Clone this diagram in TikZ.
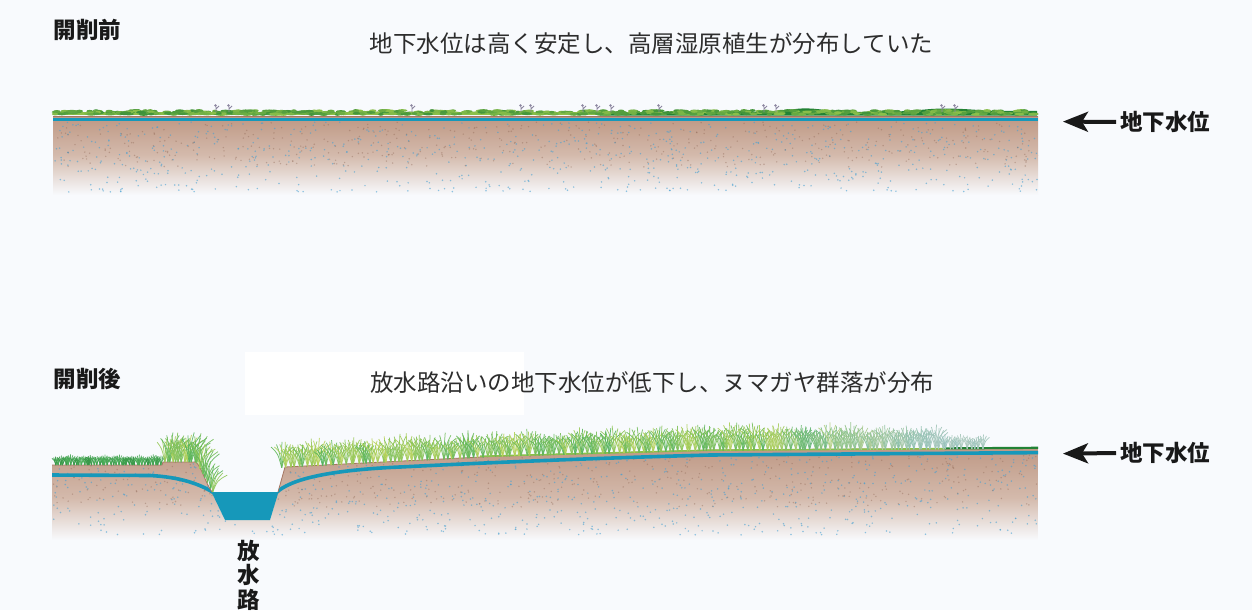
\documentclass[tikz,border=0pt]{standalone}
\usepackage{fontspec}
\newfontfamily\cjk{Noto Sans CJK JP}
\usetikzlibrary{arrows.meta}

\definecolor{bg}{RGB}{248,250,253}
\definecolor{soilTop}{RGB}{190,152,132}
\definecolor{soilMid}{RGB}{212,186,172}
\definecolor{soilEdge}{RGB}{165,118,98}
\definecolor{water}{RGB}{22,152,186}
\definecolor{dotBlue}{RGB}{70,160,210}
\definecolor{dotBrown}{RGB}{140,100,82}
\definecolor{vegDark}{RGB}{34,130,52}
\definecolor{vegLight}{RGB}{140,192,74}
\definecolor{grassA}{RGB}{80,178,92}
\definecolor{grassB}{RGB}{182,210,86}
\definecolor{grassPale}{RGB}{168,198,212}
\definecolor{sprig}{RGB}{140,134,160}
\definecolor{ink}{RGB}{25,25,25}
\definecolor{capink}{RGB}{45,45,45}

\tikzset{
  lab/.style={inner sep=0pt, text=ink, font=\cjk\bfseries\fontsize{22.5}{24.5}\selectfont},
  captext/.style={inner sep=0pt, text=capink, font=\cjk\fontsize{23.5}{26}\selectfont},
  gwarrow/.style={draw=ink, line width=4pt, shorten <=4pt, -{Stealth[length=25pt,width=20pt,inset=6pt]}},
  watertable/.style={draw=water, line width=3.6pt, line cap=round},
  blade/.style={line width=0.75pt, opacity=0.9}
}

% one grass tuft: base x, base y, height, lean, colour
\newcommand\tuft[5]{%
  \foreach \a in {-1,-0.5,0,0.5,1}{%
    \draw[blade,#5] (#1,#2) .. controls ({#1+0.15*\a*#3+0.3*#4},{#2-0.55*#3})
      .. ({#1+0.42*\a*#3+#4},{#2-#3*(1-0.2*abs(\a))});
  }}

\begin{document}
\begin{tikzpicture}[x=1pt,y=-1pt]
\fill[bg] (0,0) rectangle (1252,610);
\useasboundingbox (0,0) rectangle (1252,610);
\pgfmathsetseed{42}

% ---------- before excavation ----------
\begin{scope}
  \clip (53,116) rectangle (1038,196);
  \shade[top color=soilTop, bottom color=soilMid] (53,116) rectangle (1038,155);
  \shade[top color=soilMid, bottom color=bg] (53,155) rectangle (1038,195);
  \foreach \i in {1,...,750}{
    \pgfmathsetmacro\dx{54+983*rnd}
    \pgfmathsetmacro\dy{122+70*rnd}
    \fill[dotBlue,opacity=0.6] (\dx,\dy) circle (0.85);
  }
  \foreach \i in {1,...,450}{
    \pgfmathsetmacro\dx{54+983*rnd}
    \pgfmathsetmacro\dy{122+45*rnd}
    \fill[dotBrown,opacity=0.4] (\dx,\dy) circle (0.8);
  }
\end{scope}

% bog vegetation mat
\draw[vegLight, line width=3pt] (54,113.5) -- (1037,113.5);
\fill[vegDark] (600,115.5) -- (600,113) .. controls (700,112.5) and (760,113) .. (790,110)
  .. controls (800,107.5) and (815,108) .. (830,111) .. controls (870,113) and (900,112)
  .. (925,109.5) .. controls (945,107.5) and (965,109) .. (985,110.5)
  .. controls (1005,111.5) and (1025,110.5) .. (1037,111) -- (1037,115.5) -- cycle;
\foreach \i in {1,...,650}{
  \pgfmathsetmacro\vx{55+980*rnd}
  \pgfmathsetmacro\vy{110.5+4*rnd}
  \pgfmathtruncatemacro\vp{75*rnd}
  \fill[vegDark!\vp!vegLight] (\vx,\vy) ellipse [x radius=2.5+3*rnd, y radius=1.4];
}
\foreach \fx in {216,229,412,521,531,583,597,611,659,764,776,942,955}{
  \draw[sprig, line width=0.8pt] (\fx,112) -- (\fx,106.5) (\fx,109) -- (\fx+3,106);
  \fill[sprig] (\fx-0.5,105.5) circle (1.3);
}
\draw[soilEdge, line width=0.8pt] (53,116.2) -- (1038,116.2);
\draw[watertable, line cap=butt] (53,119.4) -- (1038,119.4);

% ---------- after excavation ----------
\fill[white] (245,352) rectangle (524,415);
\begin{scope}
  \clip (52,465) -- (162,465) -- (163,462) -- (196,462)
    .. controls (202,468) and (205,482) .. (212,492) -- (225,520) -- (270,520)
    -- (278,492) -- (285,467) -- (500,456) -- (710,450) -- (1038,448)
    -- (1038,545) -- (52,545) -- cycle;
  \shade[top color=soilTop, bottom color=soilMid] (52,446) rectangle (1038,498);
  \shade[top color=soilMid, bottom color=bg] (52,498) rectangle (1038,540);
  \foreach \i in {1,...,800}{
    \pgfmathsetmacro\dx{53+984*rnd}
    \pgfmathsetmacro\dy{457+78*rnd}
    \fill[dotBlue,opacity=0.6] (\dx,\dy) circle (0.85);
  }
  \foreach \i in {1,...,500}{
    \pgfmathsetmacro\dx{53+984*rnd}
    \pgfmathsetmacro\dy{455+52*rnd}
    \fill[dotBrown,opacity=0.4] (\dx,\dy) circle (0.8);
  }
  % lowered water table
  \draw[watertable] (50,475) -- (150,475.5) .. controls (180,477) and (200,484) .. (214,493);
  \draw[watertable] (276,493) .. controls (290,479) and (330,470) .. (400,467)
    .. controls (500,462) and (600,458) .. (710,455) -- (1040,452.6);
\end{scope}
% drainage channel
\fill[water] (211.5,492) -- (278.5,492) -- (270,520) -- (225,520) -- cycle;
% ground surface
\draw[soilEdge, line width=0.8pt] (52,465) -- (162,465) -- (163,462) -- (196,462)
  .. controls (202,468) and (205,482) .. (212,492);
\draw[soilEdge, line width=0.8pt] (278,492) -- (285,467) -- (500,456) -- (710,450) -- (1038,448);
\draw[vegLight, line width=1.6pt] (480,456.3) -- (710,450.2) -- (945,448.7);
\draw[vegDark, line width=2.2pt] (945,448.4) -- (1038,447.8);

% low sedge fringe on the left
\foreach \i in {0,...,40}{
  \pgfmathsetmacro\bx{54+\i*2.65+2*rnd}
  \pgfmathsetmacro\bh{7+4*rnd}
  \pgfmathsetmacro\bl{3*(rnd-0.5)}
  \pgfmathtruncatemacro\bp{40+55*rnd}
  \tuft{\bx}{465}{\bh}{\bl}{draw=grassA!\bp!vegDark}
}
% tall grass on the bank
\foreach \i in {0,...,18}{
  \pgfmathsetmacro\bx{164+\i*2.7+2*rnd}
  \pgfmathsetmacro\by{\bx<196 ? 462 : 462+(\bx-196)*1.8}
  \pgfmathsetmacro\bh{20+10*rnd}
  \pgfmathsetmacro\bl{2+4*rnd}
  \pgfmathtruncatemacro\bp{100*rnd}
  \tuft{\bx}{\by}{\bh}{\bl}{draw=grassA!\bp!grassB}
}
% Moliniopsis grassland to the right of the channel
\foreach \i in {0,...,175}{
  \pgfmathsetmacro\bx{281+\i*4+3*rnd}
  \pgfmathsetmacro\by{\bx<500 ? 467-11*(\bx-285)/215 : (\bx<710 ? 456-6*(\bx-500)/210 : 450-2*(\bx-710)/328)}
  \pgfmathsetmacro\bh{\bx>940 ? 8+8*rnd : 17+11*rnd}
  \pgfmathsetmacro\bl{4*(rnd-0.5)}
  \pgfmathtruncatemacro\bp{100*rnd}
  \pgfmathtruncatemacro\bq{\bx<760 ? 100 : max(20,100-(\bx-760)*0.45)}
  \tuft{\bx}{\by+0.5}{\bh}{\bl}{draw=grassA!\bp!grassB!\bq!grassPale}
}

% ---------- labels ----------
\node[lab] (pre) at (87.5,30) {開削前};
\node[captext] (capPre) at (651.5,44) {地下水位は高く安定し、高層湿原植生が分布していた};
\node[lab] (post) at (87.5,379) {開削後};
\node[captext] (capPost) at (652,383) {放水路沿いの地下水位が低下し、ヌマガヤ群落が分布};

\node[lab, anchor=west] (gwlA) at (1120,122) {地下水位};
\coordinate (tipA) at (1063,121.6);
\draw[gwarrow] (gwlA.west) -- (tipA);

\node[lab, anchor=west] (gwlB) at (1120,453) {地下水位};
\coordinate (tipB) at (1063,453.6);
\draw[gwarrow] (gwlB.west) -- (tipB);

\node[lab, align=center] (canal) at (249,575) {放\\水\\路};
\end{tikzpicture}
\end{document}
